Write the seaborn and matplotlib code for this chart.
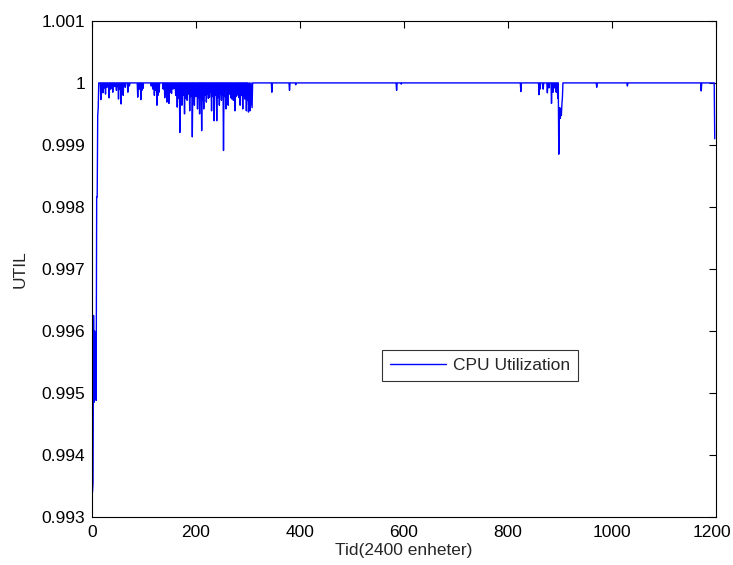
import numpy as np
import pandas as pd
import seaborn as sns
import matplotlib.pyplot as plt
import matplotlib.transforms as mtransforms

# time axis (units of 2400), last sample just before the right edge
n_samples = 1198

# start-up transient
startup_x = [1, 2, 3, 4, 5, 6, 7, 8, 9, 10, 11, 12]
startup_y = [0.99340, 0.99355, 0.99625, 0.99485, 0.99600, 0.99490,
             0.99595, 0.99488, 0.99816, 0.99816, 0.99947, 0.99960]

# dips below full utilization (baseline is 1.0)
dip_x = [17, 19, 21, 24, 26, 29, 33, 36, 40, 44, 47, 51, 53, 56, 58, 60, 64, 69, 72,
         88, 91, 94, 96, 98, 114, 117, 120, 123, 125, 127, 129, 137, 140, 142, 144,
         146, 148, 150, 153, 156, 159, 161, 164, 166, 169, 171, 173, 175, 178, 180,
         183, 185, 188, 190, 193, 195, 197, 200, 203, 205, 207, 209, 211, 213, 215,
         217, 220, 222, 224, 226, 228, 230, 232, 235, 237, 240, 242, 245, 247, 249,
         251, 253, 255, 258, 260, 262, 265, 267, 269, 272, 275, 277, 279, 281, 283,
         285, 287, 290, 292, 294, 297, 299, 301, 302, 304, 305, 307, 308,
         346, 380, 392, 586, 595, 825, 860, 862, 868, 876, 879, 884, 887, 890, 893,
         896, 898, 899, 900, 901, 902, 903, 904, 905, 971, 1030, 1172, 1198]
dip_y = [0.99973, 0.99990, 0.99984, 0.99992, 0.99982, 0.99993, 0.99976, 0.99990,
         0.99985, 0.99994, 0.99988, 0.99974, 0.99990, 0.99966, 0.99985, 0.99980,
         0.99993, 0.99985, 0.99995,
         0.99977, 0.99990, 0.99973, 0.99988, 0.99991, 0.99995, 0.99990, 0.99980,
         0.99988, 0.99964, 0.99980, 0.99985, 0.99990, 0.99976, 0.99985, 0.99969,
         0.99982, 0.99967, 0.99985, 0.99983, 0.99990, 0.99991, 0.99980, 0.99961,
         0.99975, 0.99920, 0.99978, 0.99964, 0.99980, 0.99950, 0.99975,
         0.99972, 0.99982, 0.99955, 0.99978, 0.99913, 0.99976, 0.99964, 0.99978,
         0.99958, 0.99975, 0.99950, 0.99978, 0.99923, 0.99972, 0.99958,
         0.99980, 0.99969, 0.99982, 0.99975, 0.99977, 0.99985, 0.99955, 0.99978,
         0.99939, 0.99980, 0.99939, 0.99976, 0.99964, 0.99982, 0.99972,
         0.99980, 0.99891, 0.99978, 0.99958, 0.99980, 0.99964, 0.99982, 0.99976,
         0.99974, 0.99972, 0.99955, 0.99978, 0.99985, 0.99980, 0.99976,
         0.99964, 0.99980, 0.99958, 0.99978, 0.99974, 0.99955, 0.99972, 0.99953,
         0.99970, 0.99955, 0.99965, 0.99980, 0.99960,
         0.99985, 0.99988, 0.99997, 0.99988, 0.99998, 0.99986, 0.99981, 0.99990,
         0.99990, 0.99984, 0.99992, 0.99967, 0.99985, 0.99992, 0.99985,
         0.99975, 0.99885, 0.99945, 0.99960, 0.99943, 0.99955, 0.99948, 0.99966,
         0.99977, 0.99993, 0.99995, 0.99987, 0.99910]

xtick_vals = [0, 200, 400, 600, 800, 1000, 1200]
ytick_vals = [0.993, 0.994, 0.995, 0.996, 0.997, 0.998, 0.999, 1.0, 1.001]
ytick_labels = ["0.993", "0.994", "0.995", "0.996", "0.997", "0.998", "0.999", "1", "1.001"]

util = pd.Series(1.0, index=np.arange(1, n_samples + 1))
util.loc[startup_x] = startup_y
util.loc[dip_x] = dip_y
df = pd.DataFrame({"tid": util.index, "util": util.values})

sns.set_style("white")
plt.rcParams["font.family"] = ["Liberation Sans", "DejaVu Sans"]

fig = plt.figure(figsize=(7.33, 5.65), dpi=100)
ax = fig.add_axes([0.1255, 0.0850, 0.851, 0.878])

sns.lineplot(data=df, x="tid", y="util", ax=ax, color="#0000ff", linewidth=1.0,
             label="CPU Utilization")

ax.set_xlim(0, 1200)
ax.set_ylim(0.993, 1.001)
ax.set_xticks(xtick_vals)
ax.set_yticks(ytick_vals)
ax.set_yticklabels(ytick_labels)
ax.tick_params(direction="in", length=5, width=0.8, top=True, right=True,
               labelsize=12.5, colors="black")
ax.tick_params(axis="x", pad=6)
ax.tick_params(axis="y", pad=5)
for sp in ax.spines.values():
    sp.set_color("black")
    sp.set_linewidth(0.8)

# keep the last x label inside the canvas
last = ax.get_xticklabels()[-1]
last.set_transform(last.get_transform() +
                   mtransforms.ScaledTranslation(-3 / 72, 0, fig.dpi_scale_trans))

ax.set_xlabel("Tid(2400 enheter)", fontsize=12.5, labelpad=2)
ax.set_ylabel("UTIL", fontsize=12.5, labelpad=10)

leg = ax.legend(loc="center", bbox_to_anchor=(0.622, 0.305), fontsize=12.5,
                frameon=True, fancybox=False, handlelength=3.2,
                handletextpad=0.4, borderpad=0.45)
leg.get_frame().set_edgecolor("black")
leg.get_frame().set_linewidth(0.8)

fig.savefig("out.png", dpi=100)
